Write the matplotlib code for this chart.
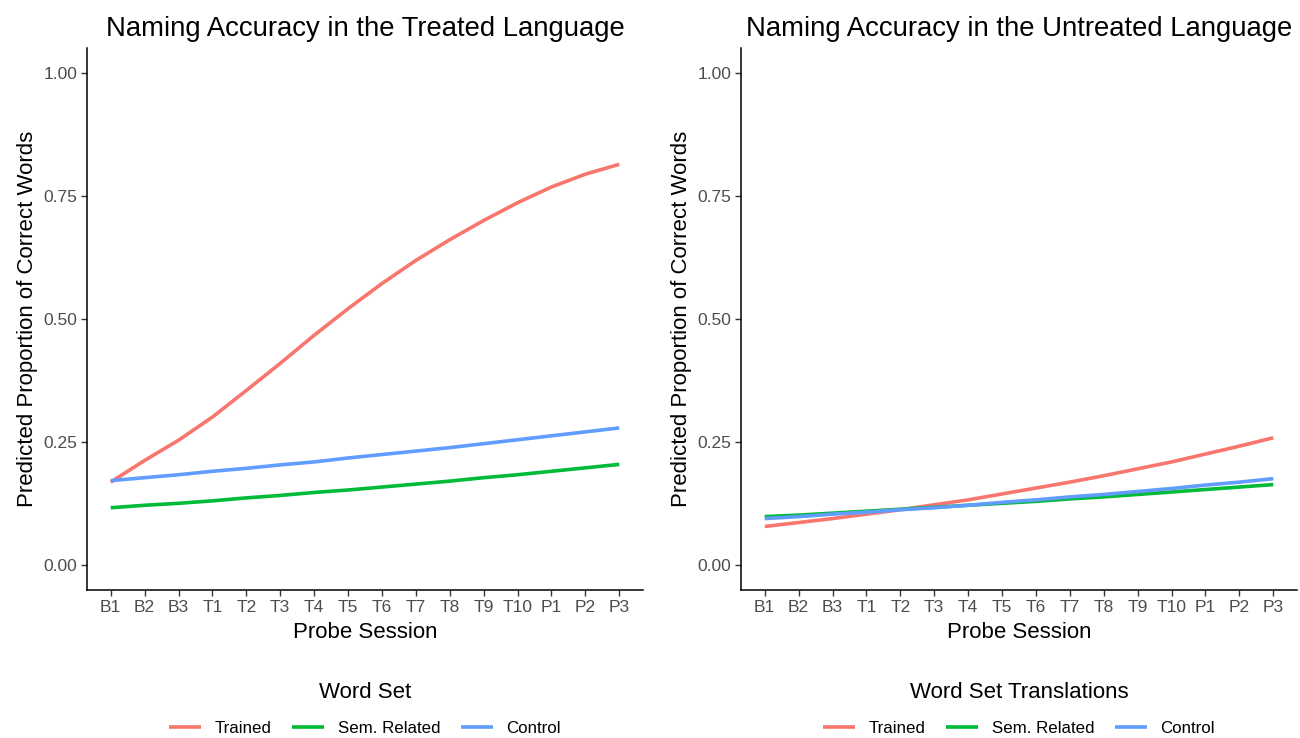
import numpy as np
import matplotlib
matplotlib.use('Agg')
import matplotlib.pyplot as plt

plt.rcParams['font.family'] = ['Liberation Sans', 'DejaVu Sans']

# Probe sessions and predicted proportions
sessions = ['B1', 'B2', 'B3', 'T1', 'T2', 'T3', 'T4', 'T5', 'T6', 'T7',
            'T8', 'T9', 'T10', 'P1', 'P2', 'P3']

treated_trained = [0.169, 0.213, 0.254, 0.301, 0.355, 0.410, 0.467, 0.521,
                   0.572, 0.619, 0.661, 0.700, 0.736, 0.768, 0.794, 0.814]
treated_semrel = [0.117, 0.122, 0.126, 0.131, 0.137, 0.142, 0.148, 0.153,
                  0.159, 0.165, 0.171, 0.178, 0.184, 0.191, 0.198, 0.205]
treated_control = [0.172, 0.178, 0.184, 0.191, 0.197, 0.204, 0.210, 0.218,
                   0.225, 0.232, 0.239, 0.247, 0.255, 0.263, 0.271, 0.279]

untreated_trained = [0.079, 0.087, 0.095, 0.104, 0.113, 0.123, 0.133, 0.145,
                     0.157, 0.169, 0.182, 0.196, 0.210, 0.226, 0.242, 0.259]
untreated_semrel = [0.099, 0.102, 0.106, 0.110, 0.114, 0.118, 0.122, 0.126,
                    0.130, 0.135, 0.139, 0.144, 0.149, 0.154, 0.159, 0.164]
untreated_control = [0.095, 0.099, 0.104, 0.108, 0.113, 0.117, 0.122, 0.128,
                     0.133, 0.139, 0.144, 0.150, 0.156, 0.163, 0.169, 0.176]

labels = ['Trained', 'Sem. Related', 'Control']
colors = ['#F8766D', '#00BA38', '#619CFF']

fig = plt.figure(figsize=(13, 7.38), dpi=100)
ax1 = fig.add_axes([0.0669, 0.2005, 0.4277, 0.7344])
ax2 = fig.add_axes([0.570, 0.2005, 0.4277, 0.7344])

panels = [
    (ax1, [treated_trained, treated_semrel, treated_control],
     'Naming Accuracy in the Treated Language', 'Word Set'),
    (ax2, [untreated_trained, untreated_semrel, untreated_control],
     'Naming Accuracy in the Untreated Language', 'Word Set Translations'),
]

x = np.arange(len(sessions))
for ax, series, title, leg_title in panels:
    handles = []
    for vals, lab, col in zip(series, labels, colors):
        h, = ax.plot(x, vals, color=col, lw=2.6, label=lab, solid_capstyle='butt')
        handles.append(h)
    ax.set_xlim(-0.7, len(sessions) - 1 + 0.7)
    ax.set_ylim(-0.05, 1.05)
    ax.set_xticks(x)
    ax.set_xticklabels(sessions)
    ax.set_yticks([0, 0.25, 0.5, 0.75, 1.0])
    ax.set_yticklabels(['0.00', '0.25', '0.50', '0.75', '1.00'])
    ax.tick_params(axis='both', labelsize=12.5, labelcolor='#4D4D4D',
                   color='#333333', length=4, width=1, pad=3)
    for s in ['top', 'right']:
        ax.spines[s].set_visible(False)
    for s in ['left', 'bottom']:
        ax.spines[s].set_linewidth(1.1)
    ax.set_title(title, fontsize=19.8, pad=9)
    ax.set_xlabel('Probe Session', fontsize=16, labelpad=5)
    ax.set_ylabel('Predicted Proportion of Correct Words', fontsize=16, labelpad=4)

    bb = ax.get_position()
    leg = fig.legend(handles=handles, labels=labels, title=leg_title, ncol=3,
                     loc='lower center',
                     bbox_to_anchor=((bb.x0 + bb.x1) / 2, -0.018),
                     frameon=False, fontsize=12.2, title_fontsize=16,
                     handlelength=1.9, columnspacing=1.2, handletextpad=0.8)
    leg._legend_box.sep = 13

fig.savefig('out.png', dpi=100)
